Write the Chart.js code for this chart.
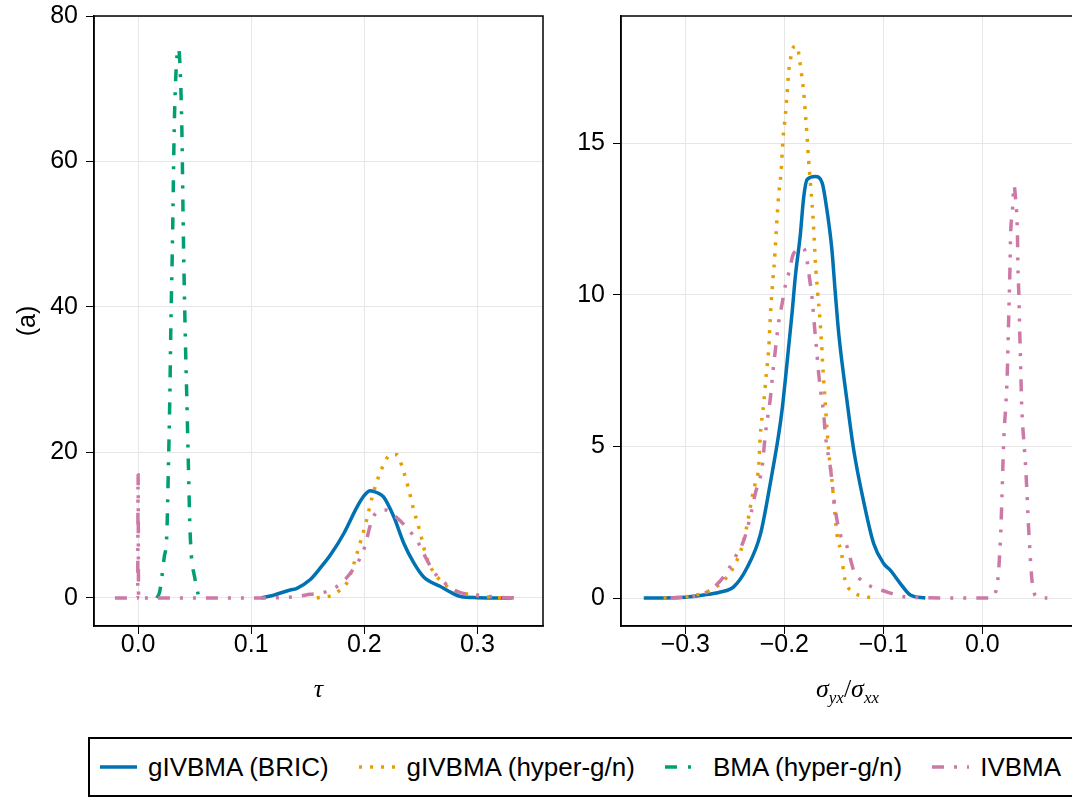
<!DOCTYPE html>
<html>
<head>
<meta charset="utf-8">
<title>posterior densities</title>
<script src="https://cdn.jsdelivr.net/npm/chart.js@4.4.0/dist/chart.umd.min.js"></script>
<style>
  html, body { margin: 0; padding: 0; background: #fff; overflow: hidden; }
  body { width: 1072px; height: 799px; position: relative; font-family: "Liberation Sans", Arial, sans-serif; }
  #wrapL { position: absolute; left: 0; top: 0; width: 560px; height: 720px; }
  #wrapR { position: absolute; left: 560px; top: 0; width: 520px; height: 720px; }
  #legend {
    position: absolute; left: 88px; top: 737px; width: 1100px; height: 56px;
    border: 2px solid #000; display: flex; align-items: center;
    padding-left: 10px; font-size: 26px; color: #000;
  }
  .item { display: flex; align-items: center; margin-right: 30px; white-space: nowrap; }
  .item svg { margin-right: 11px; }
</style>
</head>
<body>
<div id="wrapL"><canvas id="left"></canvas></div>
<div id="wrapR"><canvas id="right"></canvas></div>
<div id="legend"></div>

<script>
// tick values
const tauTicks = [0.0, 0.1, 0.2, 0.3];
const tauDensTicks = [0, 20, 40, 60, 80];
const ratioTicks = [-0.3, -0.2, -0.1, 0.0];
const ratioDensTicks = [0, 5, 10, 15];

// series names + colours
const seriesNames = ['gIVBMA (BRIC)', 'gIVBMA (hyper-g/n)', 'BMA (hyper-g/n)', 'IVBMA'];
const seriesColors = ['#0072B2', '#E69F00', '#009E73', '#CC79A7'];
const seriesDash = [[], [3, 8], [12, 11, 3, 11], [12, 10, 3, 10, 3, 10]];

// left panel: tau
const tauBricX = [0.109, 0.12, 0.1345, 0.14, 0.152, 0.162, 0.17, 0.182, 0.1935, 0.2, 0.2053, 0.211, 0.217, 0.226, 0.235, 0.2435, 0.2525, 0.267, 0.275, 0.285, 0.3, 0.331];
const tauBricY = [0, 0.4, 1.1, 1.3, 2.5, 4.3, 5.9, 8.9, 12.5, 14.1, 14.75, 14.5, 13.9, 11.2, 7.5, 4.9, 2.9, 1.6, 0.9, 0.2, 0.05, 0];

const tauHyperX = [0.158, 0.17, 0.177, 0.185, 0.1935, 0.202, 0.207, 0.2127, 0.217, 0.223, 0.229, 0.2334, 0.239, 0.2437, 0.2496, 0.254, 0.2584, 0.2702, 0.282, 0.2968, 0.317, 0.33];
const tauHyperY = [0, 0.3, 0.9, 2.2, 6.1, 10.7, 13.9, 16.7, 18.3, 19.7, 19.7, 18.05, 15.1, 12.1, 8.9, 6.1, 4.3, 2.0, 0.9, 0.4, 0.05, 0];

const tauBmaX = [0.0165, 0.019, 0.021, 0.023, 0.0254, 0.0268, 0.028, 0.0289, 0.0305, 0.0319, 0.0336, 0.0357, 0.0372, 0.0387, 0.04, 0.0416, 0.0431, 0.0445, 0.046, 0.0504, 0.0534];
const tauBmaY = [0, 0.8, 2.9, 5.5, 8.9, 18, 27.2, 36.8, 50, 64.3, 72.6, 75.6, 72.6, 64.3, 50, 36.8, 27.2, 18, 8.9, 2.5, 0.3];

const tauIvbmaX = [-0.0205, -0.0004, 0, 0.0004, 0.1, 0.14, 0.152, 0.165, 0.175, 0.1876, 0.1994, 0.208, 0.2186, 0.226, 0.2407, 0.248, 0.2525, 0.2614, 0.27, 0.282, 0.2997, 0.32, 0.338];
const tauIvbmaY = [0, 0, 16.9, 0, 0, 0.2, 0.5, 0.8, 1.5, 3.4, 6.6, 11.2, 12.1, 11.4, 9.1, 7.5, 6.1, 3.6, 2.2, 0.9, 0.4, 0.1, 0];

// right panel: sigma_yx / sigma_xx
const ratioBricX = [-0.342, -0.3, -0.2815, -0.2646, -0.2512, -0.2377, -0.2242, -0.2141, -0.2057, -0.2023, -0.199, -0.1956, -0.1922, -0.1889, -0.1838, -0.1805, -0.177, -0.1687, -0.1619, -0.157, -0.152, -0.1485, -0.145, -0.1367, -0.13, -0.12, -0.1098, -0.0997, -0.093, -0.0828, -0.0727, -0.0576];
const ratioBricY = [0, 0.03, 0.1, 0.2, 0.37, 1.0, 2.1, 3.8, 5.4, 6.2, 7.2, 8.3, 9.4, 10.6, 12.0, 13.2, 13.8, 13.9, 13.7, 12.8, 11.5, 10.05, 8.7, 6.5, 4.9, 3.2, 1.8, 1.14, 0.92, 0.48, 0.1, 0];

const ratioHyperX = [-0.322, -0.298, -0.2747, -0.2579, -0.2478, -0.241, -0.236, -0.2327, -0.2293, -0.226, -0.2242, -0.2209, -0.2182, -0.2158, -0.2141, -0.2118, -0.21, -0.208, -0.2057, -0.2033, -0.2013, -0.199, -0.1973, -0.1956, -0.194, -0.1922, -0.1872, -0.1848, -0.1832, -0.1805, -0.1788, -0.177, -0.1754, -0.172, -0.1704, -0.1687, -0.1663, -0.1643, -0.1626, -0.1609, -0.1586, -0.157, -0.1545, -0.152, -0.15, -0.1468, -0.1417, -0.14, -0.13, -0.1182, -0.1064];
const ratioHyperY = [0, 0.05, 0.26, 0.7, 1.25, 1.9, 2.7, 3.3, 3.8, 4.3, 5.4, 6.4, 7.4, 8.2, 9.3, 10.4, 11.1, 12.2, 13.3, 14.05, 15.15, 15.9, 16.6, 17.35, 17.7, 18.1, 18.2, 17.8, 17.4, 16.7, 16.0, 15.2, 14.4, 13.0, 12.2, 11.1, 10.05, 9.3, 8.5, 7.5, 6.4, 5.6, 4.6, 3.9, 3.2, 2.1, 1.36, 0.8, 0.2, 0.05, 0];

const ratioIvbmaX = [-0.315, -0.2815, -0.2613, -0.2495, -0.241, -0.2343, -0.2293, -0.2225, -0.2192, -0.2141, -0.2114, -0.209, -0.2057, -0.2023, -0.199, -0.1956, -0.1906, -0.1805, -0.177, -0.1744, -0.172, -0.1694, -0.1677, -0.1653, -0.163, -0.1603, -0.1586, -0.1535, -0.1485, -0.1434, -0.1367, -0.13, -0.12, -0.0963, -0.0727, 0.0084, 0.0152, 0.0185, 0.0219, 0.0236, 0.0253, 0.0263, 0.0273, 0.028, 0.0286, 0.0303, 0.032, 0.0337, 0.0354, 0.036, 0.037, 0.0377, 0.0387, 0.0397, 0.0404, 0.0438, 0.0471, 0.0505, 0.0556, 0.0657];
const ratioIvbmaY = [0, 0.15, 0.7, 1.36, 1.9, 2.7, 3.45, 4.3, 5.4, 6.6, 7.5, 8.2, 9.1, 9.7, 10.3, 10.7, 11.36, 11.53, 11.1, 10.5, 9.9, 8.9, 8.3, 7.4, 6.75, 6.1, 5.4, 4.3, 2.9, 2.1, 1.7, 0.92, 0.54, 0.2, 0.02, 0, 0.48, 2.1, 5.4, 6.3, 7.5, 8.8, 10.05, 11.0, 12.0, 12.7, 13.6, 13.1, 12.1, 10.9, 9.9, 8.9, 7.7, 6.4, 5.9, 4.3, 2.1, 0.48, 0.04, 0];

const TICK_FONT = { family: 'Liberation Sans', size: 25 };

const toPoints = (xs, ys) => xs.map((x, i) => ({ x: x, y: ys[i] }));

// one line dataset, index into the series lists above
const makeSet = (idx, xs, ys) => ({
  label: seriesNames[idx],
  data: toPoints(xs, ys),
  borderColor: seriesColors[idx],
  borderDash: seriesDash[idx],
  borderWidth: 3.5,
  borderCapStyle: 'butt',
  pointRadius: 0,
  fill: false,
  cubicInterpolationMode: 'monotone',
  order: 4 - idx
});

// black box round the plot area
const frame = {
  id: 'frame',
  afterDatasetsDraw(chart) {
    const { ctx, chartArea: a } = chart;
    ctx.save();
    ctx.strokeStyle = '#000';
    ctx.lineWidth = 1.5;
    ctx.strokeRect(a.left, a.top, a.right - a.left, a.bottom - a.top);
    ctx.restore();
  }
};

// x axis title with subscripts (latex-ish)
const mathTitle = {
  id: 'mathTitle',
  afterDraw(chart, args, opts) {
    if (!opts.parts) return;
    const { ctx } = chart;
    const s = chart.scales.x;
    const fontFor = p => (p.up ? '' : 'italic ') + (p.sub ? '17px' : '26px') + ' "Liberation Serif"';
    ctx.save();
    let w = 0;
    opts.parts.forEach(p => { ctx.font = fontFor(p); w += ctx.measureText(p.t).width; });
    let x = (s.left + s.right) / 2 - w / 2;
    const y = s.top + opts.offset;
    ctx.fillStyle = '#000';
    ctx.textBaseline = 'alphabetic';
    opts.parts.forEach(p => {
      ctx.font = fontFor(p);
      ctx.fillText(p.t, x, p.sub ? y + 6 : y);
      x += ctx.measureText(p.t).width;
    });
    ctx.restore();
  }
};

const fmt = v => v.toFixed(1).replace('-', '\u2212');

function axes(xMin, xMax, xTicks, yMin, yMax, yTicks, yWidth, yTitle) {
  return {
    x: {
      type: 'linear', min: xMin, max: xMax,
      afterBuildTicks: s => { s.ticks = xTicks.map(v => ({ value: v })); },
      afterFit: s => { s.height = 94; s.paddingLeft = 0; s.paddingRight = 0; },
      grid: { color: '#e6e6e6', lineWidth: 1, tickColor: '#000', tickLength: 8 },
      border: { color: '#000', width: 1.5 },
      ticks: { font: TICK_FONT, color: '#000', padding: -4, maxRotation: 0, autoSkip: false, callback: v => fmt(v) }
    },
    y: {
      type: 'linear', min: yMin, max: yMax,
      afterBuildTicks: s => { s.ticks = yTicks.map(v => ({ value: v })); },
      afterFit: s => { s.width = yWidth; s.paddingTop = 0; s.paddingBottom = 0; },
      grid: { color: '#e6e6e6', lineWidth: 1, tickColor: '#000', tickLength: 8 },
      border: { color: '#000', width: 1.5 },
      ticks: { font: TICK_FONT, color: '#000', padding: 8, autoSkip: false, callback: v => String(v) },
      title: { display: !!yTitle, text: yTitle || '', color: '#000', font: { family: 'Liberation Sans', size: 25 }, padding: { top: 13, bottom: 0 } }
    }
  };
}

new Chart(document.getElementById('left'), {
  type: 'line',
  data: {
    datasets: [
      makeSet(0, tauBricX, tauBricY),
      makeSet(1, tauHyperX, tauHyperY),
      makeSet(2, tauBmaX, tauBmaY),
      makeSet(3, tauIvbmaX, tauIvbmaY)
    ]
  },
  options: {
    responsive: true,
    maintainAspectRatio: false,
    animation: false,
    layout: { padding: { left: 0, top: 16, right: 17, bottom: 0 } },
    scales: axes(-0.039, 0.358, tauTicks, -3.85, 80, tauDensTicks, 94, '(a)'),
    plugins: {
      legend: { display: false },
      tooltip: { enabled: false },
      mathTitle: { offset: 71, parts: [{ t: '\u03c4' }] }
    }
  },
  plugins: [frame, mathTitle]
});

new Chart(document.getElementById('right'), {
  type: 'line',
  data: {
    datasets: [
      makeSet(0, ratioBricX, ratioBricY),
      makeSet(1, ratioHyperX, ratioHyperY),
      makeSet(3, ratioIvbmaX, ratioIvbmaY)
    ]
  },
  options: {
    responsive: true,
    maintainAspectRatio: false,
    animation: false,
    layout: { padding: { left: 0, top: 16, right: 6, bottom: 0 } },
    scales: axes(-0.365, 0.0926, ratioTicks, -0.92, 19.19, ratioDensTicks, 61, null),
    plugins: {
      legend: { display: false },
      tooltip: { enabled: false },
      mathTitle: {
        offset: 71,
        parts: [{ t: '\u03c3' }, { t: 'yx', sub: true }, { t: '/', up: true }, { t: '\u03c3' }, { t: 'xx', sub: true }]
      }
    }
  },
  plugins: [frame, mathTitle]
});

// legend underneath both panels
const legend = document.getElementById('legend');
seriesNames.forEach((name, i) => {
  const item = document.createElement('div');
  item.className = 'item';
  const dash = seriesDash[i].length ? ` stroke-dasharray="${seriesDash[i].join(' ')}"` : '';
  item.innerHTML = `<svg width="37" height="10"><line x1="0" y1="5" x2="37" y2="5" stroke="${seriesColors[i]}" stroke-width="3.5"${dash}/></svg><span>${name}</span>`;
  legend.appendChild(item);
});
</script>
</body>
</html>
